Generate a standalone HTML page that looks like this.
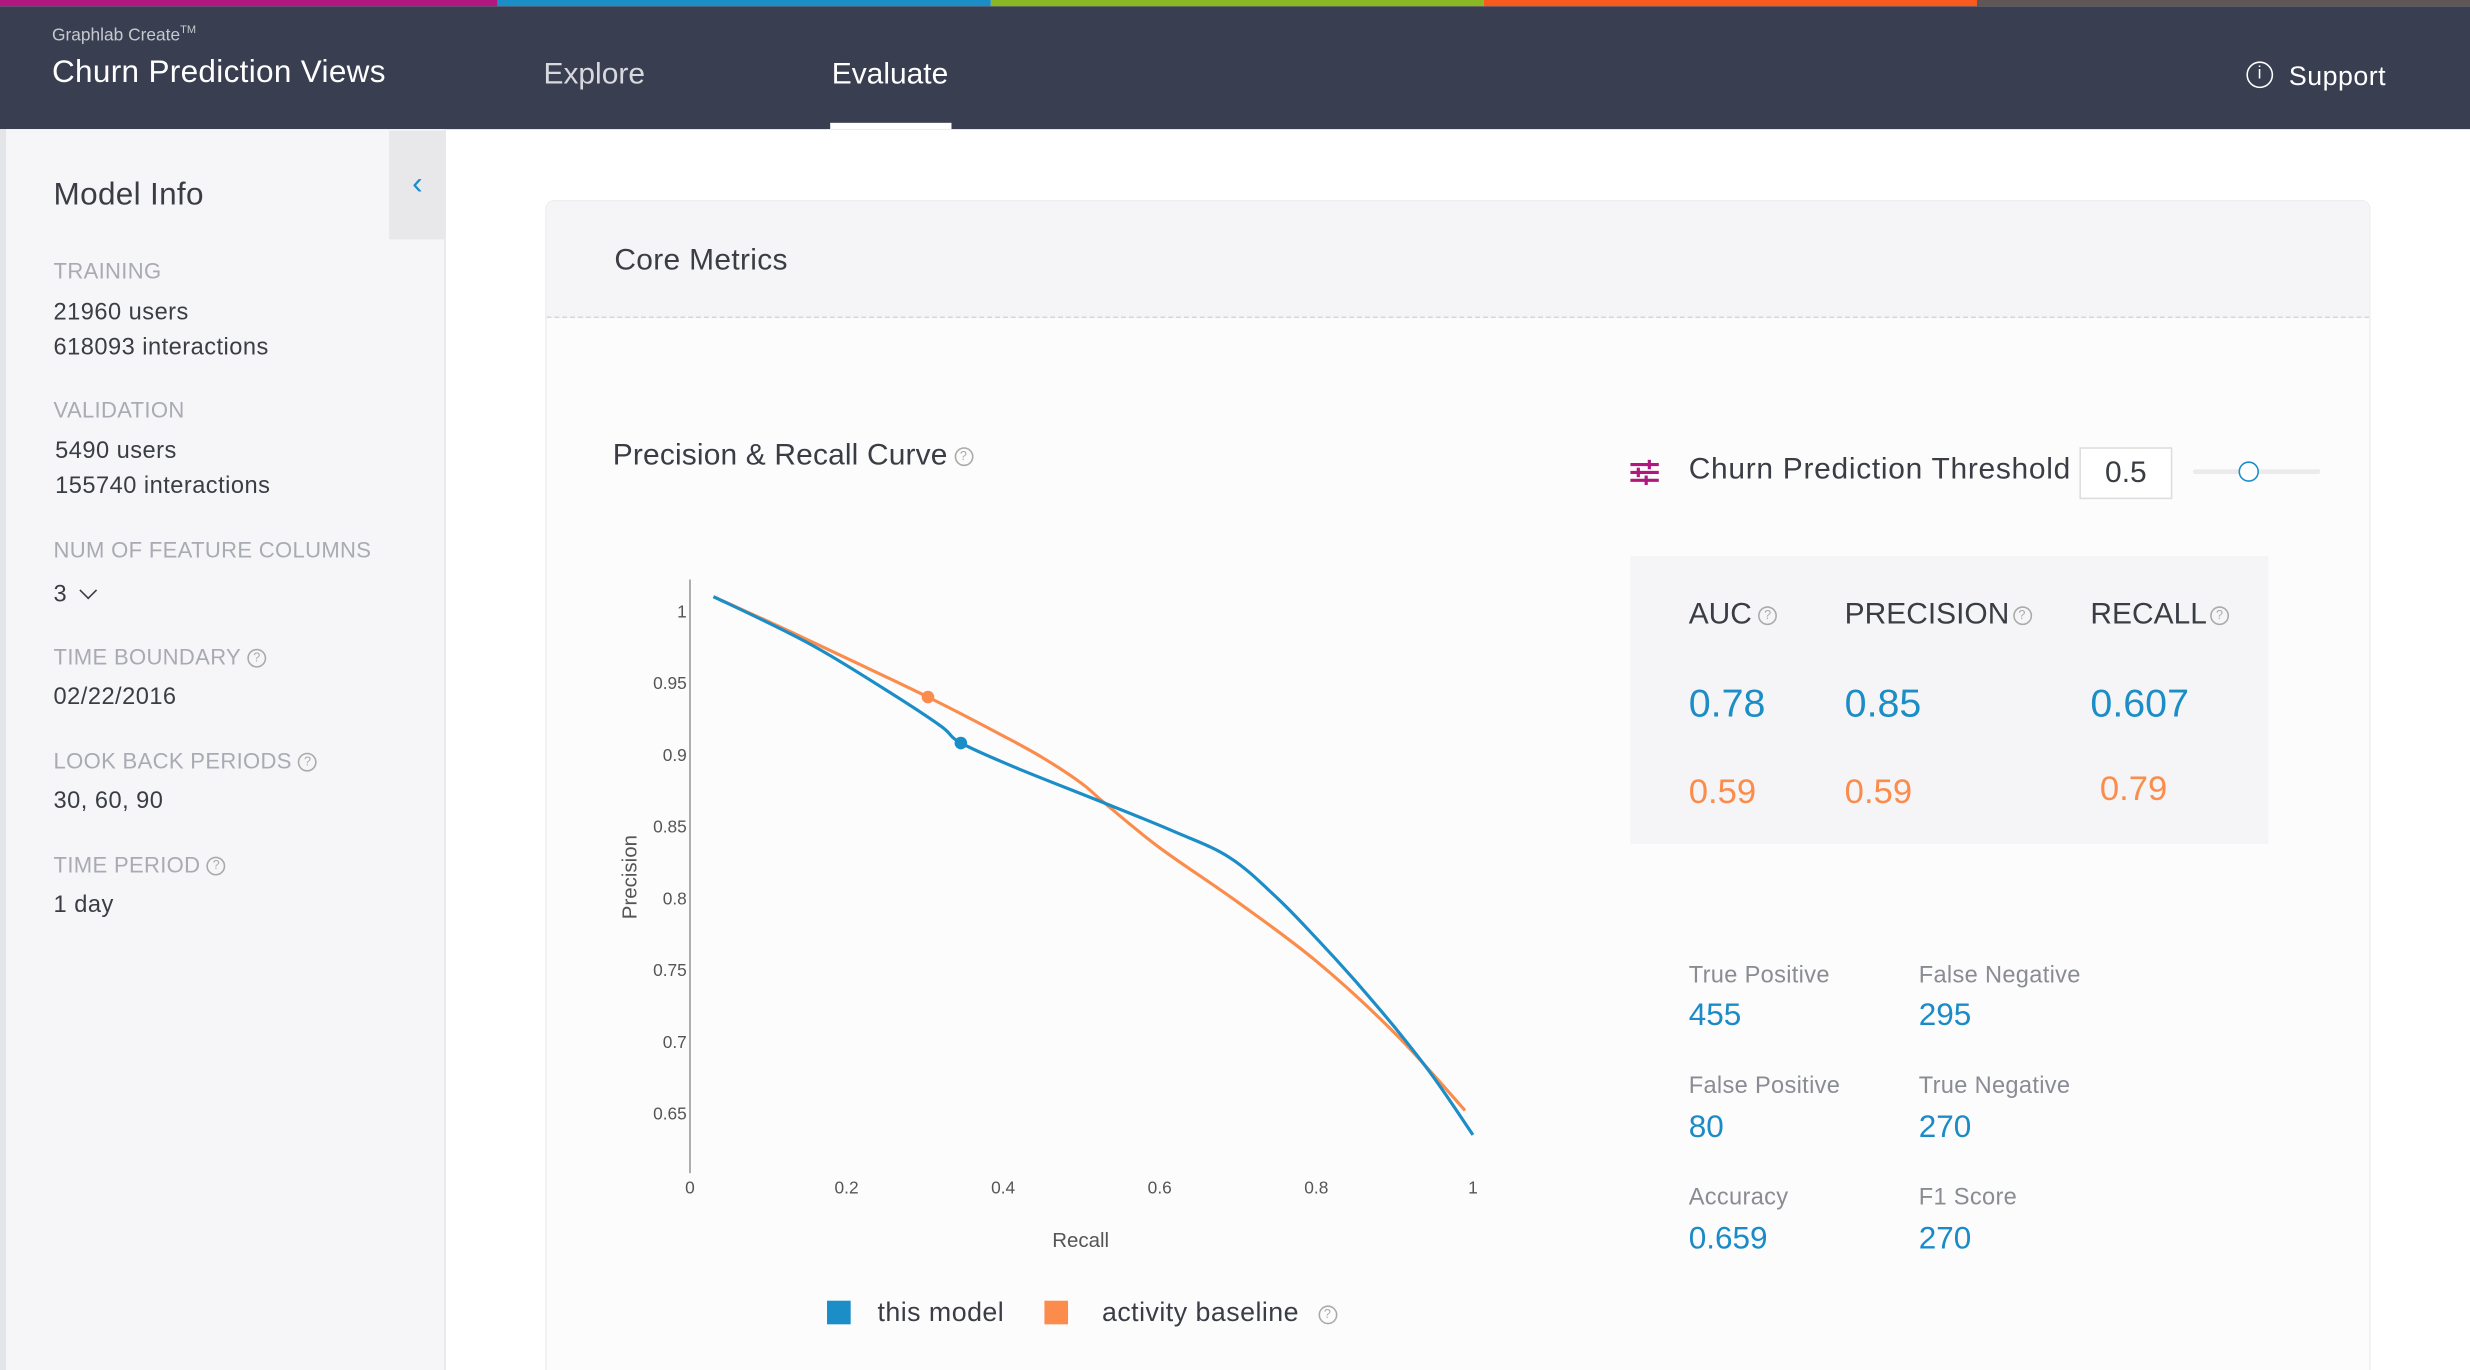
<!DOCTYPE html>
<html><head><meta charset="utf-8"><style>
html,body{margin:0;padding:0;width:2470px;height:1370px;overflow:hidden;background:#fff;font-family:"Liberation Sans",sans-serif}
#w{position:absolute;left:0;top:0;width:1568px;height:870px;overflow:hidden;transform:scale(1.5753,1.5747);transform-origin:0 0;background:#fff}
.a{position:absolute;white-space:nowrap}
.lab{color:#a9abb3;font-size:14px;letter-spacing:0.2px}
.val{color:#3a3d44;font-size:15px;letter-spacing:0.3px}
.q{display:inline-block;width:10px;height:10px;border:1px solid #aaa;border-radius:50%;font-size:8px;line-height:10px;text-align:center;color:#aaa;vertical-align:middle;margin-left:4px;letter-spacing:0}
.cm{color:#8a8c93;font-size:15px;letter-spacing:0.2px}
.cv{color:#1b8bc7;font-size:20px}
</style></head><body><div id="w">
<div class="a" style="left:0;top:0;width:316px;height:4px;background:#b0177f"></div>
<div class="a" style="left:316px;top:0;width:313px;height:4px;background:#1b8dc7"></div>
<div class="a" style="left:629px;top:0;width:313px;height:4px;background:#8ab824"></div>
<div class="a" style="left:942px;top:0;width:313px;height:4px;background:#fb5a1f"></div>
<div class="a" style="left:1255px;top:0;width:313px;height:4px;background:#5f5755"></div>
<div class="a" style="left:0;top:4px;width:1568px;height:78px;background:#393e51">
 <div class="a" style="left:33px;top:12px;color:#c7c9d0;font-size:11px">Graphlab Create<sup style="font-size:7px">TM</sup></div>
 <div class="a" style="left:33px;top:31px;color:#fff;font-size:20px;letter-spacing:0.2px">Churn Prediction Views</div>
 <div class="a" style="left:345px;top:33px;color:#d8d9de;font-size:19px">Explore</div>
 <div class="a" style="left:528px;top:33px;color:#fff;font-size:19px">Evaluate</div>
 <div class="a" style="left:527px;top:74px;width:77px;height:4px;background:#fff"></div>
 <div class="a" style="left:1426px;top:35px;color:#fff;font-size:17px;letter-spacing:0.3px"><span style="display:inline-block;width:15px;height:15px;border:1.5px solid #fff;border-radius:50%;font-size:11px;line-height:15px;text-align:center;vertical-align:top;margin-right:10px">i</span>Support</div>
</div>
<div class="a" style="left:0;top:82px;width:4px;height:788px;background:#e4e5e8"></div>
<div class="a" style="left:4px;top:82px;width:278px;height:788px;background:#f6f6f8;border-right:1px solid #e6e6ea">
 <div class="a" style="left:243px;top:1px;width:36px;height:69px;background:#e8e8eb;color:#1b8dc7;font-size:20px;text-align:center;line-height:68px">&lsaquo;</div>
 <div class="a" style="left:30px;top:31px;color:#3a3d44;font-size:20px;letter-spacing:0.2px">Model Info</div>
 <div class="a lab" style="left:30px;top:82px">TRAINING</div>
 <div class="a val" style="left:30px;top:106px;line-height:22px">21960 users<br>618093 interactions</div>
 <div class="a lab" style="left:30px;top:170px">VALIDATION</div>
 <div class="a val" style="left:31px;top:194px;line-height:22px">5490 users<br>155740 interactions</div>
 <div class="a lab" style="left:30px;top:259px">NUM OF FEATURE COLUMNS</div>
 <div class="a val" style="left:30px;top:287px">3 &nbsp;<span style="display:inline-block;width:7px;height:7px;border-right:1.5px solid #3a3d44;border-bottom:1.5px solid #3a3d44;transform:rotate(45deg);position:relative;top:-3px"></span></div>
 <div class="a lab" style="left:30px;top:327px">TIME BOUNDARY<span class="q">?</span></div>
 <div class="a val" style="left:30px;top:352px">02/22/2016</div>
 <div class="a lab" style="left:30px;top:393px">LOOK BACK PERIODS<span class="q">?</span></div>
 <div class="a val" style="left:30px;top:418px">30, 60, 90</div>
 <div class="a lab" style="left:30px;top:459px">TIME PERIOD<span class="q">?</span></div>
 <div class="a val" style="left:30px;top:484px">1 day</div>
</div>
<div class="a" style="left:346px;top:127px;width:1157px;height:743px;background:#fcfcfd;border:1px solid #eeeef1;border-bottom:none;border-radius:6px 6px 0 0">
 <div class="a" style="left:0;top:0;width:1157px;height:73px;background:#f5f5f7;border-bottom:1.5px dashed #d5d6da;border-radius:6px 6px 0 0"></div>
 <div class="a" style="left:43px;top:27px;color:#3a3d44;font-size:19px;letter-spacing:0.2px">Core Metrics</div>
</div>
<div class="a" style="left:389px;top:279px;color:#3a3d44;font-size:19px;letter-spacing:0.1px">Precision &amp; Recall Curve<span class="q">?</span></div>
<svg class="a" style="left:0;top:0" width="1568" height="870" id="chart"></svg>
<div class="a" style="left:525px;top:824px;font-size:17px;color:#3a3d44;letter-spacing:0.3px">
 <span><span style="display:inline-block;width:15px;height:15px;background:#1b8dc7;vertical-align:-2px;margin-right:17px"></span>this model</span>
 <span style="margin-left:20px"><span style="display:inline-block;width:15px;height:15px;background:#fb8c4b;vertical-align:-2px;margin-right:22px"></span>activity baseline</span><span class="q" style="margin-left:12px">?</span>
</div>
<svg class="a" style="left:1034px;top:291px" width="20" height="18">
 <g stroke="#b0177f" stroke-width="2"><line x1="1" y1="4" x2="19" y2="4"/><line x1="1" y1="9" x2="19" y2="9"/><line x1="1" y1="14" x2="19" y2="14"/></g>
 <g fill="#b0177f"><rect x="12" y="1" width="2" height="6"/><rect x="5" y="6" width="2" height="6"/><rect x="10" y="11" width="2" height="6"/></g>
</svg>
<div class="a" style="left:1072px;top:288px;color:#3a3d44;font-size:19px;letter-spacing:0.45px">Churn Prediction Threshold</div>
<div class="a" style="left:1320px;top:284px;width:57px;height:31px;border:1px solid #ddd;background:#fff;color:#3a3d44;font-size:19px;line-height:31px;text-align:center">0.5</div>
<div class="a" style="left:1392px;top:298px;width:81px;height:3px;background:#ebebee;border-radius:2px"></div>
<div class="a" style="left:1421px;top:293px;width:11px;height:11px;border:1.5px solid #1b8dc7;border-radius:50%;background:#fff"></div>
<div class="a" style="left:1035px;top:353px;width:405px;height:183px;background:#f5f5f7">
 <div class="a" style="left:37px;top:27px;color:#3a3d44;font-size:19px">AUC<span class="q">?</span></div>
 <div class="a" style="left:136px;top:27px;color:#3a3d44;font-size:19px">PRECISION<span class="q" style="margin-left:2px">?</span></div>
 <div class="a" style="left:292px;top:27px;color:#3a3d44;font-size:19px">RECALL<span class="q" style="margin-left:2px">?</span></div>
 <div class="a" style="left:37px;top:80px;color:#1b8dc7;font-size:25px">0.78</div>
 <div class="a" style="left:136px;top:80px;color:#1b8dc7;font-size:25px">0.85</div>
 <div class="a" style="left:292px;top:80px;color:#1b8dc7;font-size:25px">0.607</div>
 <div class="a" style="left:37px;top:137px;color:#fb8c4b;font-size:22px">0.59</div>
 <div class="a" style="left:136px;top:137px;color:#fb8c4b;font-size:22px">0.59</div>
 <div class="a" style="left:298px;top:135px;color:#fb8c4b;font-size:22px">0.79</div>
</div>
<div class="a cm" style="left:1072px;top:611px">True Positive</div>
<div class="a cv" style="left:1072px;top:634px">455</div>
<div class="a cm" style="left:1218px;top:611px">False Negative</div>
<div class="a cv" style="left:1218px;top:634px">295</div>
<div class="a cm" style="left:1072px;top:681px">False Positive</div>
<div class="a cv" style="left:1072px;top:705px">80</div>
<div class="a cm" style="left:1218px;top:681px">True Negative</div>
<div class="a cv" style="left:1218px;top:705px">270</div>
<div class="a cm" style="left:1072px;top:752px">Accuracy</div>
<div class="a cv" style="left:1072px;top:776px">0.659</div>
<div class="a cm" style="left:1218px;top:752px">F1 Score</div>
<div class="a cv" style="left:1218px;top:776px">270</div>
</div>
<script>
const xTicks=[0,0.2,0.4,0.6,0.8,1];
const xTickLabels=["0","0.2","0.4","0.6","0.8","1"];
const yTicks=[0.65,0.7,0.75,0.8,0.85,0.9,0.95,1];
const yTickLabels=["0.65","0.7","0.75","0.8","0.85","0.9","0.95","1"];
const modelRecall=[0.03,0.15,0.25,0.32,0.346,0.42,0.53,0.62,0.69,0.75,0.8,0.85,0.9,0.95,1.0];
const modelPrecision=[1.01,0.978,0.945,0.92,0.908,0.89,0.866,0.846,0.828,0.8,0.772,0.742,0.71,0.675,0.635];
const baseRecall=[0.03,0.15,0.304,0.4,0.45,0.5,0.53,0.6,0.7,0.8,0.9,0.99];
const basePrecision=[1.01,0.98,0.94,0.913,0.898,0.88,0.866,0.835,0.797,0.756,0.706,0.652];
const modelMarker=[0.346,0.908];
const baseMarker=[0.304,0.94];
const NS="http://www.w3.org/2000/svg";
const svg=document.getElementById('chart');
const X=v=>438+v*497;
const Y=v=>388+(1-v)*911.4;
function mk(t,a){const e=document.createElementNS(NS,t);for(const k in a)e.setAttribute(k,a[k]);svg.appendChild(e);return e;}
const ax=mk('line',{x1:438,y1:368,x2:438,y2:745,stroke:'#999','stroke-width':1});


xTicks.forEach((t,i)=>{const e=mk('text',{x:X(t),y:758,'font-size':11,fill:'#555','text-anchor':'middle','font-family':'Liberation Sans'});e.textContent=xTickLabels[i];

});
yTicks.forEach((t,i)=>{const e=mk('text',{x:436,y:Y(t)+4,'font-size':11,fill:'#555','text-anchor':'end','font-family':'Liberation Sans'});e.textContent=yTickLabels[i];

});
const xt=mk('text',{x:686,y:792,'font-size':13,fill:'#555','text-anchor':'middle','font-family':'Liberation Sans'});xt.textContent='Recall';


const yt=mk('text',{x:0,y:0,'font-size':13,fill:'#555','text-anchor':'middle','font-family':'Liberation Sans',transform:'translate(404,557) rotate(-90)'});yt.textContent='Precision';


function path(xs,ys,c,name){
 const P=xs.map((x,i)=>[X(x),Y(ys[i])]);
 let d='M'+P[0][0].toFixed(1)+','+P[0][1].toFixed(1);
 for(let i=0;i<P.length-1;i++){
  const p0=P[Math.max(0,i-1)],p1=P[i],p2=P[i+1],p3=P[Math.min(P.length-1,i+2)];
  const c1=[p1[0]+(p2[0]-p0[0])/6,p1[1]+(p2[1]-p0[1])/6];
  const c2=[p2[0]-(p3[0]-p1[0])/6,p2[1]-(p3[1]-p1[1])/6];
  d+='C'+c1[0].toFixed(1)+','+c1[1].toFixed(1)+' '+c2[0].toFixed(1)+','+c2[1].toFixed(1)+' '+p2[0].toFixed(1)+','+p2[1].toFixed(1);
 }
 const p=mk('path',{d:d,fill:'none',stroke:c,'stroke-width':2,'stroke-linejoin':'round'});
 
 }
path(baseRecall,basePrecision,'#fb8c4b','baseline-curve');
path(modelRecall,modelPrecision,'#1b8dc7','model-curve');
const m1=mk('circle',{cx:X(baseMarker[0]),cy:Y(baseMarker[1]),r:4,fill:'#fb8c4b'});


const m2=mk('circle',{cx:X(modelMarker[0]),cy:Y(modelMarker[1]),r:4,fill:'#1b8dc7'});


</script>
</body></html>
